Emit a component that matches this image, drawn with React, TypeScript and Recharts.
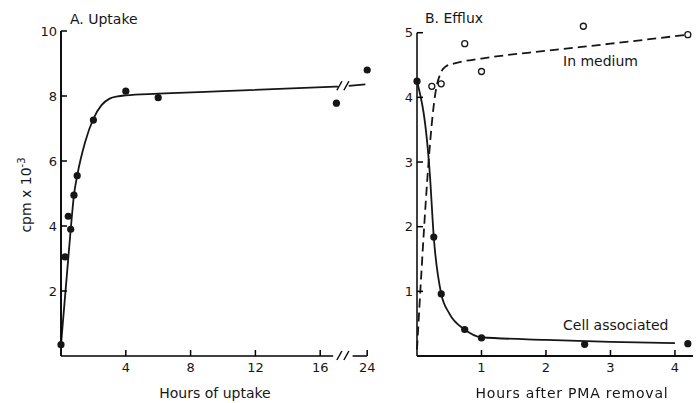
import { ComposedChart, Line, Scatter, XAxis, YAxis, ReferenceDot } from "recharts";

// Panel A: uptake (hours, cpm x 10^-3)
const uptakeHours = [0, 0.25, 0.45, 0.6, 0.8, 1, 2, 4, 6, 17, 24];
const uptakeCpm = [0.35, 3.05, 4.3, 3.9, 4.95, 5.55, 7.26, 8.15, 7.95, 7.78, 8.8];
const uptakeFitHours = [0, 0.6, 0.8, 1, 1.5, 2, 2.5, 3, 3.5, 4, 6, 10, 17.1];
const uptakeFitCpm = [0.35, 3.9, 4.95, 5.55, 6.6, 7.3, 7.72, 7.92, 7.99, 8.02, 8.07, 8.15, 8.29];
const uptakeFitTailHours = [19, 23.5];
const uptakeFitTailCpm = [8.31, 8.36];
const uptakeTicksX = [4, 8, 12, 16, 24];
const uptakeTicksY = [2, 4, 6, 8, 10];

// Panel B: efflux
const cellHours = [0, 0.26, 0.376, 0.74, 1.0, 2.6, 4.2];
const cellCpm = [4.25, 1.84, 0.96, 0.41, 0.28, 0.18, 0.19];
const cellFitHours = [0, 0.2, 0.26, 0.376, 0.5, 0.74, 1, 2, 3, 4];
const cellFitCpm = [4.25, 2.8, 1.84, 0.96, 0.66, 0.41, 0.29, 0.25, 0.22, 0.2];
const mediumHours = [0.23, 0.375, 0.74, 1.0, 2.58, 4.2];
const mediumCpm = [4.17, 4.21, 4.83, 4.4, 5.1, 4.97];
const mediumFitHours = [0, 0.3, 0.36, 0.45, 0.6, 1, 2, 3, 4.2];
const mediumFitCpm = [0.1, 4.15, 4.36, 4.48, 4.53, 4.6, 4.72, 4.83, 4.97];
const effluxTicksX = [1, 2, 3, 4];
const effluxTicksY = [1, 2, 3, 4, 5];

// broken x axis: linear up to the break, then 17.4..24 squeezed into 1.5 units
const BREAK = 17.4;
const axisPos = (h: number) => (h <= BREAK ? h : BREAK + ((h - BREAK) * 1.5) / (24 - BREAK));
const A_MAX = axisPos(24) + 0.05;

const pts = (xs: number[], ys: number[], map = (v: number) => v) =>
  xs.map((x, i) => ({ x: map(x), y: ys[i] }));

const INK = "#161616";
const AXIS = "#000000";
const FONT = "'DejaVu Sans', sans-serif";
const TICK = 6;

// axis frame segments (in data units)
const uptakeAxisY = [{ x: 0, y: 0 }, { x: 0, y: 10 }];
const uptakeAxisX = [{ x: 0, y: 0 }, { x: 16.8, y: 0 }];
const uptakeAxisX2 = [{ x: 18.0, y: 0 }, { x: axisPos(24), y: 0 }];
const effluxAxisY = [{ x: 0, y: 0 }, { x: 0, y: 5 }];
const effluxAxisX = [{ x: 0, y: 0 }, { x: 4.28, y: 0 }];

// tick labels come from the axes, tick marks point into the plot
const LeftLabel = (p: any) => (
  <text x={p.x} y={p.y} dy="0.36em" textAnchor="end" fill={INK} fontSize={13} fontFamily={FONT}>
    {p.tickFormatter ? p.tickFormatter(p.payload.value) : p.payload.value}
  </text>
);
const BottomLabel = (p: any) => (
  <text x={p.x} y={p.y} dy="0.75em" textAnchor="middle" fill={INK} fontSize={13} fontFamily={FONT}>
    {p.tickFormatter ? p.tickFormatter(p.payload.value) : p.payload.value}
  </text>
);
const YTickMark = (p: any) => (
  <line x1={p.cx} y1={p.cy} x2={p.cx + TICK} y2={p.cy} stroke={AXIS} strokeWidth={1.5} />
);
const XTickMark = (p: any) => (
  <line x1={p.cx} y1={p.cy} x2={p.cx} y2={p.cy - TICK} stroke={AXIS} strokeWidth={1.5} />
);

const Dot = (p: any) => <circle cx={p.cx} cy={p.cy} r={3.6} fill={INK} />;
const OpenDot = (p: any) => <circle cx={p.cx} cy={p.cy} r={3} fill="#fff" stroke={INK} strokeWidth={1.3} />;

const BreakMark = (p: any) => (
  <g stroke={AXIS} strokeWidth={1.4}>
    <line x1={p.cx - 6} y1={p.cy + 4} x2={p.cx - 1} y2={p.cy - 5} />
    <line x1={p.cx + 1} y1={p.cy + 4} x2={p.cx + 6} y2={p.cy - 5} />
  </g>
);

const frame = { dataKey: "y", type: "linear" as const, stroke: AXIS, strokeWidth: 1.5, dot: false, isAnimationActive: false };

function Uptake() {
  return (
    <ComposedChart width={380} height={403} margin={{ top: 31, right: 12, bottom: 17, left: 21 }}>
      <XAxis
        type="number"
        dataKey="x"
        domain={[0, A_MAX]}
        ticks={uptakeTicksX.map((t) => axisPos(t))}
        tickFormatter={(v: number) => String(uptakeTicksX.find((t) => Math.abs(axisPos(t) - v) < 1e-6) ?? v)}
        tick={BottomLabel}
        axisLine={false}
        tickLine={false}
        tickMargin={0}
        interval={0}
        height={30}
      />
      <YAxis
        type="number"
        dataKey="y"
        domain={[0, 10]}
        ticks={uptakeTicksY}
        tick={LeftLabel}
        stroke={AXIS}
        strokeWidth={1.5}
        tickLine={false}
        tickSize={6}
        tickMargin={-2}
        interval={0}
        width={40}
      />
      <Line data={uptakeAxisY} {...frame} />
      <Line data={uptakeAxisX} {...frame} />
      <Line data={uptakeAxisX2} {...frame} />
      <Scatter data={uptakeTicksY.map((v) => ({ x: 0, y: v }))} dataKey="y" shape={YTickMark} isAnimationActive={false} />
      <Scatter data={uptakeTicksX.map((t) => ({ x: axisPos(t), y: 0 }))} dataKey="y" shape={XTickMark} isAnimationActive={false} />
      <ReferenceDot x={BREAK} y={0} shape={BreakMark} />
      <ReferenceDot x={BREAK} y={8.3} shape={BreakMark} />
      <Line data={pts(uptakeFitHours, uptakeFitCpm)} dataKey="y" type="monotone" stroke={INK} strokeWidth={1.8} dot={false} isAnimationActive={false} />
      <Line data={pts(uptakeFitTailHours, uptakeFitTailCpm, axisPos)} dataKey="y" type="linear" stroke={INK} strokeWidth={1.8} dot={false} isAnimationActive={false} />
      <Scatter data={pts(uptakeHours, uptakeCpm, axisPos)} dataKey="y" shape={Dot} isAnimationActive={false} />
    </ComposedChart>
  );
}

function Efflux() {
  return (
    <ComposedChart width={356} height={403} margin={{ top: 23, right: 3, bottom: 17, left: 37 }}>
      <XAxis
        type="number"
        dataKey="x"
        domain={[0, 4.28]}
        ticks={effluxTicksX}
        tick={BottomLabel}
        stroke={AXIS}
        strokeWidth={1.5}
        tickLine={false}
        tickMargin={0}
        interval={0}
        height={30}
      />
      <YAxis
        type="number"
        dataKey="y"
        domain={[0, 5.15]}
        ticks={effluxTicksY}
        tick={LeftLabel}
        axisLine={false}
        tickLine={false}
        tickSize={6}
        tickMargin={-2}
        interval={0}
        width={40}
      />
      <Line data={effluxAxisY} {...frame} />
      <Line data={effluxAxisX} {...frame} />
      <Scatter data={effluxTicksY.map((v) => ({ x: 0, y: v }))} dataKey="y" shape={YTickMark} isAnimationActive={false} />
      <Scatter data={effluxTicksX.map((t) => ({ x: t, y: 0 }))} dataKey="y" shape={XTickMark} isAnimationActive={false} />
      <Line data={pts(mediumFitHours, mediumFitCpm)} dataKey="y" type="monotone" stroke={INK} strokeWidth={1.8} strokeDasharray="9 5" dot={false} isAnimationActive={false} />
      <Line data={pts(cellFitHours, cellFitCpm)} dataKey="y" type="monotone" stroke={INK} strokeWidth={1.8} dot={false} isAnimationActive={false} />
      <Scatter data={pts(mediumHours, mediumCpm)} dataKey="y" shape={OpenDot} isAnimationActive={false} />
      <Scatter data={pts(cellHours, cellCpm)} dataKey="y" shape={Dot} isAnimationActive={false} />
    </ComposedChart>
  );
}

const textStyle = { position: "absolute" as const, fontFamily: FONT, fontSize: 14, lineHeight: "14px", color: INK, whiteSpace: "nowrap" as const };

// left-anchored or centred caption, positioned by its baseline
const Caption = ({ x, y, center, spacing, children }: any) => (
  <div
    style={{
      ...textStyle,
      top: y - 12,
      left: center ? x - 150 : x,
      width: center ? 300 : undefined,
      textAlign: center ? "center" : "left",
      letterSpacing: spacing,
    }}
  >
    {children}
  </div>
);

export default function App() {
  return (
    <div style={{ position: "fixed", left: 0, top: 0, width: 696, height: 403, background: "#fff" }}>
      <div style={{ position: "absolute", left: 0, top: 0 }}>
        <Uptake />
      </div>
      <div style={{ position: "absolute", left: 340, top: 0 }}>
        <Efflux />
      </div>
      <Caption x={70} y={24}>A. Uptake</Caption>
      <Caption x={425} y={23}>B. Efflux</Caption>
      <Caption x={563} y={66}>In medium</Caption>
      <Caption x={563} y={330}>Cell associated</Caption>
      <Caption x={215} y={398} center>Hours of uptake</Caption>
      <Caption x={572} y={398} center spacing={0.8}>Hours after PMA removal</Caption>
      <div style={{ ...textStyle, left: -34, top: 188, width: 120, height: 14, textAlign: "center", transform: "rotate(-90deg)" }}>
        cpm x 10<span style={{ fontSize: 10, verticalAlign: "6px", lineHeight: 0 }}>-3</span>
      </div>
    </div>
  );
}
